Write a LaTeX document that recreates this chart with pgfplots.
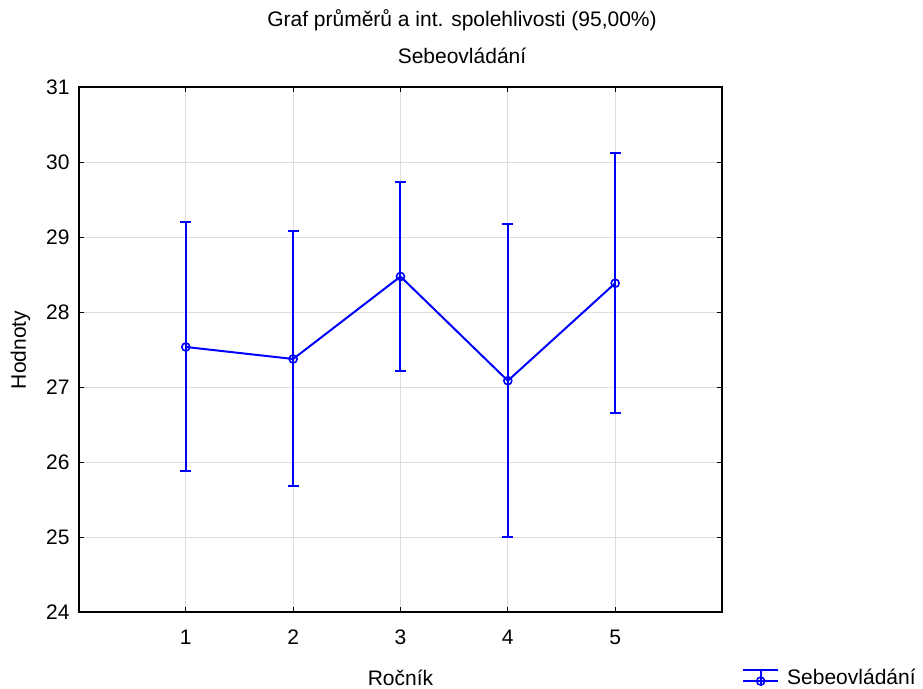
\documentclass[border=0pt]{standalone}
\usepackage{fontspec}
\setmainfont{Liberation Sans}
\usepackage{pgfplots}
\pgfplotsset{compat=1.18}
\definecolor{serie}{RGB}{0,0,255}
\definecolor{mrizka}{RGB}{220,220,220}
\newcommand{\grafpismo}{\fontsize{10.5}{12.5}\selectfont}

\begin{document}
\begin{tikzpicture}
\useasboundingbox (0,0) rectangle (461.5pt,344.5pt);
\begin{axis}[
  at={(39.25pt,38.25pt)}, anchor=south west,
  scale only axis, width=322pt, height=262.5pt,
  xmin=0, xmax=6, ymin=24, ymax=31,
  xtick={1,2,3,4,5}, ytick={24,25,...,31},
  grid=major, major grid style={mrizka, line width=0.5pt},
  axis line style={black, line width=1pt},
  tick align=inside, tick pos=both, major tick length=2.5pt,
  tick style={black, line width=0.6pt},
  font=\grafpismo,
  /pgf/number format/assume math mode=true,
  xticklabel style={yshift=-5pt},
  yticklabel style={xshift=-1pt},
  xlabel={Ročník},
  xlabel style={at={(axis description cs:0.5,0)}, anchor=center, yshift=-32.5pt},
  ylabel={Hodnoty},
  ylabel style={at={(axis description cs:-0.090,0.5)}, anchor=center},
  legend style={at={(axis description cs:1.03,-0.125)}, anchor=west, draw=none,
    fill=none, inner sep=0pt, font=\grafpismo},
  legend cell align=left,
  legend image code/.code={
    \draw[#1, mark repeat=2, mark phase=2] plot coordinates {(0pt,-1.5pt) (8.75pt,-1.5pt) (17.5pt,-1.5pt)};
    \draw[#1, mark=none] (0pt,4pt) -- (17.5pt,4pt);
    \draw[#1, mark=none] (8.75pt,-4pt) -- (8.75pt,4pt);
    \path[draw=none] (17.5pt,0pt) -- (20pt,0pt);
  },
]
\addplot[serie, line width=1pt, mark=o, mark size=2pt,
  mark options={line width=0.8pt},
  error bars/.cd, y dir=both, y explicit,
  error bar style={serie, line width=1pt},
  error mark options={serie, line width=1pt, mark size=2.75pt, rotate=90}]
  table[x=x, y=y, y error=e] {
x y e
1 27.54 1.66
2 27.38 1.70
3 28.48 1.26
4 27.09 2.09
5 28.39 1.73
};
\addlegendentry{Sebeovládání}
\end{axis}
\node[font=\grafpismo] at (231pt,334.5pt) {Graf průměrů a int. spolehlivosti (95,00\%)};
\node[font=\grafpismo] at (231pt,316.5pt) {Sebeovládání};
\end{tikzpicture}
\end{document}
